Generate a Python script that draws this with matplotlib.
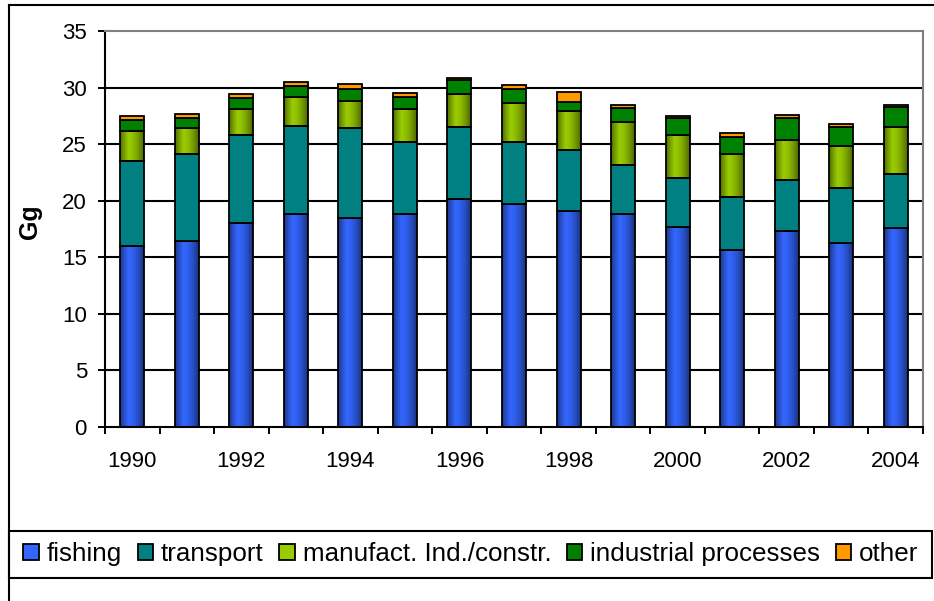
import numpy as np
import matplotlib.pyplot as plt
from matplotlib.patches import Patch, Rectangle
from matplotlib.lines import Line2D

plt.rcParams['font.family'] = ['Liberation Sans', 'DejaVu Sans']

# data (Gg)
years = [1990, 1991, 1992, 1993, 1994, 1995, 1996, 1997, 1998, 1999,
         2000, 2001, 2002, 2003, 2004]
fishing = [16.0, 16.4, 18.05, 18.8, 18.45, 18.8, 20.15, 19.75, 19.05, 18.8,
           17.7, 15.6, 17.3, 16.25, 17.55]
transport = [7.5, 7.7, 7.75, 7.8, 7.95, 6.4, 6.4, 5.45, 5.45, 4.35,
             4.35, 4.75, 4.55, 4.85, 4.85]
manufact = [2.7, 2.3, 2.3, 2.6, 2.45, 2.9, 2.85, 3.45, 3.4, 3.85,
            3.75, 3.75, 3.55, 3.75, 4.15]
industrial = [0.9, 0.9, 0.95, 0.9, 1.05, 1.1, 1.25, 1.25, 0.85, 1.2,
              1.5, 1.55, 1.95, 1.7, 1.7]
other = [0.4, 0.4, 0.35, 0.4, 0.4, 0.35, 0.2, 0.3, 0.85, 0.3,
         0.2, 0.35, 0.2, 0.25, 0.25]

series = [
    ('fishing', fishing, '#3366FF', True),
    ('transport', transport, '#008080', False),
    ('manufact. Ind./constr.', manufact, '#99CC00', True),
    ('industrial processes', industrial, '#008000', False),
    ('other', other, '#FF9900', False),
]


def gradient(color, n=64):
    """horizontal gradient: dark edges, bright just left of centre"""
    c = np.array(plt.matplotlib.colors.to_rgb(color))
    t = np.linspace(0, 1, n)
    f = np.where(t < 0.35, 0.55 + 0.45 * t / 0.35,
                 1.0 - 0.5 * ((t - 0.35) / 0.65) ** 1.6)
    img = np.clip(c[None, :] * f[:, None], 0, 1)
    return img[None, :, :]


fig = plt.figure(figsize=(9.34, 6.01), dpi=100)
ax = fig.add_axes([105 / 934, 1 - 427 / 601, 818 / 934, 396 / 601])

x = np.arange(len(years))
w = 0.44
bottom = np.zeros(len(years))
for name, vals, color, grad in series:
    vals = np.array(vals)
    if grad:
        img = gradient(color)
        for xi, b, v in zip(x, bottom, vals):
            ax.imshow(img, extent=(xi - w / 2, xi + w / 2, b, b + v),
                      aspect='auto', zorder=2, interpolation='bilinear')
        ax.bar(x, vals, w, bottom=bottom, facecolor='none',
               edgecolor='black', linewidth=1.3, zorder=3)
    else:
        ax.bar(x, vals, w, bottom=bottom, color=color,
               edgecolor='black', linewidth=1.3, zorder=3)
    bottom += vals

ax.set_xlim(-0.5, len(years) - 0.5)
ax.set_ylim(0, 35)
ax.set_yticks(range(0, 36, 5))
ax.set_xticks(x[::2])
ax.set_xticklabels([str(y) for y in years[::2]])
ax.set_xticks(np.arange(-0.5, len(years), 1), minor=True)
ax.tick_params(axis='x', which='major', length=0, pad=17, labelsize=16)
ax.tick_params(axis='x', which='minor', length=5, width=1.4, direction='out')
ax.tick_params(axis='y', length=5, width=1.4, pad=8, labelsize=16)

for yv in range(5, 35, 5):
    ax.axhline(yv, color='black', linewidth=1.5, zorder=1)
ax.spines['top'].set_color('#808080')
ax.spines['right'].set_color('#808080')
for s in ax.spines.values():
    s.set_linewidth(1.5)

fig.text(30 / 934, 1 - 222 / 601, 'Gg', rotation=90, fontsize=18,
         fontweight='bold', ha='center', va='center')

# outer chart frame and legend box
fig.add_artist(Line2D([9 / 934, 9 / 934], [0, 1 - 5 / 601], color='black', lw=1.5))
fig.add_artist(Line2D([9 / 934, 1], [1 - 5 / 601, 1 - 5 / 601], color='black', lw=1.5))
fig.add_artist(Rectangle((9 / 934, 1 - 578 / 601), 923 / 934, 47 / 601,
                         fill=False, edgecolor='black', lw=1.5))

handles = [Patch(facecolor=c, edgecolor='black', linewidth=1.3)
           for _, _, c, _ in series]
labels = [s[0] for s in series]
fig.legend(handles, labels, loc='center', ncol=5,
           bbox_to_anchor=(471 / 934, 1 - 554 / 601), frameon=False,
           fontsize=18.7, handlelength=0.6, handleheight=0.6,
           handletextpad=0.3, columnspacing=0.6, borderpad=0)

plt.savefig('out.png', dpi=100)
